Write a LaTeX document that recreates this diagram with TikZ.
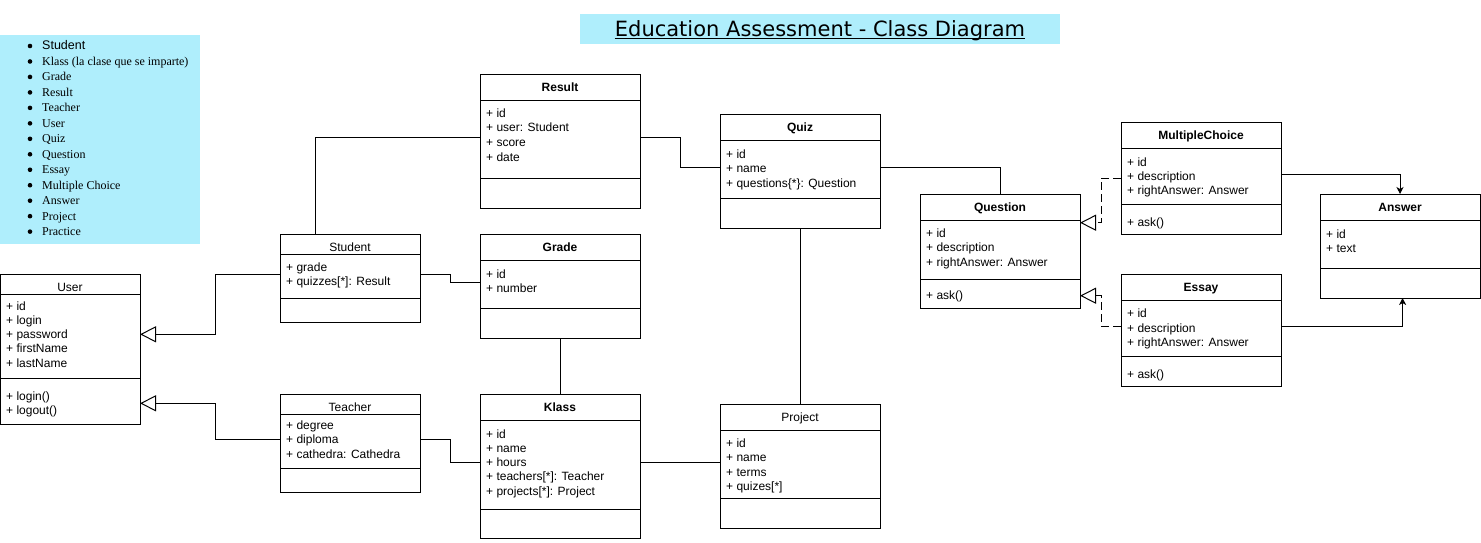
\documentclass[tikz,border=0pt]{standalone}
\usepackage{fontspec}
\setmainfont{Liberation Sans}
\setsansfont{Liberation Sans}
\newfontfamily\legendfont{Liberation Serif}
\newfontfamily\headfont{DejaVu Sans}
\usetikzlibrary{arrows.meta}
\definecolor{notecyan}{RGB}{175,238,252}
\tikzset{
  classbox/.style={draw,line width=1pt,fill=white,inner sep=0pt,outer sep=0pt},
  ctitle/.style={inner sep=0pt,text height=8.6pt,text depth=0pt,font=\fontsize{12}{14.4}\selectfont},
  attr/.style={anchor=west,inner sep=0pt,text height=8.6pt,text depth=0pt,font=\fontsize{12}{14.4}\selectfont},
  legend/.style={anchor=west,inner sep=0pt,text height=7.9pt,text depth=0pt,font=\legendfont\fontsize{12}{14}\selectfont},
  legenddot/.style={circle,fill,inner sep=0pt,minimum size=4.6pt},
  assoc/.style={line width=1pt},
  inherit/.style={line width=1pt,-{Triangle[open,length=16pt,width=16pt]}},
  realize/.style={inherit,dash pattern=on 8pt off 4pt},
  depend/.style={line width=1pt,-{Stealth[length=7pt,width=7pt,inset=2pt]}}
}

\begin{document}
\begin{tikzpicture}[x=1pt,y=-1pt]
\useasboundingbox (0,0) rectangle (1481,542);
\fill[notecyan] (580,14) rectangle (1060,44);
\node[inner sep=0pt,anchor=base,font=\headfont\fontsize{21}{25}\selectfont] (title) at (820,36) {Education Assessment - Class Diagram};
\draw[line width=1.3pt] ([yshift=-2.7pt]title.base west) -- ([yshift=-2.7pt]title.base east);
\fill[notecyan] (0,35) rectangle (200,244);
\foreach \t [count=\i from 0] in {{\sffamily\fontsize{12.5}{14}\selectfont Student},Klass (la clase que se imparte),Grade,Result,Teacher,User,Quiz,Question,Essay,Multiple Choice,Answer,Project,Practice}{
  \node[legenddot] (dot\i) at (30,46+15.47*\i) {};
  \node[legend] (item\i) at (42,46+15.47*\i) {\t};}
\foreach \n/\x/\y/\w/\hh/\s/\h/\t in {
  user/0/274/140/20/104/150/User,
  student/280/234/140/20/64/88/Student,
  teacher/280/394/140/20/74/98/Teacher,
  result/480/74/160/26/104/134/\textbf{Result},
  grade/480/234/160/26/74/104/\textbf{Grade},
  klass/480/394/160/26/115/144/\textbf{Klass},
  quiz/720/114/160/26/84/114/\textbf{Quiz},
  project/720/404/160/26/94/124/Project,
  question/920/194/160/26/85/114/\textbf{Question},
  multichoice/1121/122/160/26/82/112/\textbf{MultipleChoice},
  essay/1121/274/160/26/82/112/\textbf{Essay},
  answer/1320/194/160/26/74/104/\textbf{Answer}}{
  \node[classbox,minimum width=\w*1pt,minimum height=\h*1pt] (\n) at (\x+\w/2,\y+\h/2) {};
  \draw[line width=1pt] (\x,\y+\hh) -- ++(\w,0) (\x,\y+\s) -- ++(\w,0);
  \node[ctitle] (\n-title) at (\x+\w/2,\y+13) {\t};}
\foreach \a [count=\i from 0] in {+ id,+ login,+ password,+ firstName,+ lastName}
  \node[attr] (user-a\i) at (6,306+14.2*\i) {\a};
\foreach \a [count=\i from 0] in {+ login(),+ logout()}
  \node[attr] (user-m\i) at (6,395.7+14.3*\i) {\a};
\foreach \a [count=\i from 0] in {+ grade,+ quizzes[*]: Result}
  \node[attr] (student-a\i) at (286,267+14.6*\i) {\a};
\foreach \a [count=\i from 0] in {+ degree,+ diploma,+ cathedra: Cathedra}
  \node[attr] (teacher-a\i) at (286,424.7+14.5*\i) {\a};
\foreach \a [count=\i from 0] in {+ id,+ user: Student,+ score,+ date}
  \node[attr] (result-a\i) at (486,113+14.6*\i) {\a};
\foreach \a [count=\i from 0] in {+ id,+ number}
  \node[attr] (grade-a\i) at (486,273.7+14.3*\i) {\a};
\foreach \a [count=\i from 0] in {+ id,+ name,+ hours,+ teachers[*]: Teacher,+ projects[*]: Project}
  \node[attr] (klass-a\i) at (486,433.7+14.3*\i) {\a};
\foreach \a [count=\i from 0] in {+ id,+ name,+ questions\{*\}: Question}
  \node[attr] (quiz-a\i) at (726,153.7+14.5*\i) {\a};
\foreach \a [count=\i from 0] in {+ id,+ name,+ terms,+ quizes[*]}
  \node[attr] (project-a\i) at (726,443+14.5*\i) {\a};
\foreach \a [count=\i from 0] in {+ id,+ description,+ rightAnswer: Answer}
  \node[attr] (question-a\i) at (926,233+14.5*\i) {\a};
\node[attr] (question-m0) at (926,295.5) {+ ask()};
\foreach \a [count=\i from 0] in {+ id,+ description,+ rightAnswer: Answer}
  \node[attr] (multichoice-a\i) at (1127,161.7+14.3*\i) {\a};
\node[attr] (multichoice-m0) at (1127,221.7) {+ ask()};
\foreach \a [count=\i from 0] in {+ id,+ description,+ rightAnswer: Answer}
  \node[attr] (essay-a\i) at (1127,313.3+14.5*\i) {\a};
\node[attr] (essay-m0) at (1127,373.7) {+ ask()};
\foreach \a [count=\i from 0] in {+ id,+ text}
  \node[attr] (answer-a\i) at (1326,233.7+14*\i) {\a};
\draw[inherit] ([yshift=3.7pt]student.west) -- ++(-64.7,0) |- ([yshift=14.7pt]user.east);
\draw[inherit] ([yshift=3.7pt]teacher.west) -- ++(-64.7,0) |- ([yshift=-54.3pt]user.east);
\draw[assoc] ([xshift=-34.3pt]student.north) |- ([yshift=4pt]result.west);
\draw[assoc] ([yshift=3.7pt]student.east) -- ++(30.7,0) |- ([yshift=3.7pt]grade.west);
\draw[assoc] ([yshift=3.7pt]teacher.east) -- ++(30.7,0) |- ([yshift=3.7pt]klass.west);
\draw[assoc] (grade.south) -- (klass.north);
\draw[assoc] ([yshift=3.7pt]klass.east) -- ([yshift=3.7pt]project.west);
\draw[assoc] ([yshift=4pt]result.east) -- ++(40.7,0) |- ([yshift=4pt]quiz.west);
\draw[assoc] (quiz.south) -- (project.north);
\draw[assoc] ([yshift=4pt]quiz.east) -| (question.north);
\draw[realize] (multichoice.west) -- ++(-20,0) |- ([yshift=28.3pt]question.east);
\draw[realize] ([yshift=4pt]essay.west) -- ++(-20,0) |- ([yshift=-44.7pt]question.east);
\draw[depend] ([yshift=4pt]multichoice.east) -| (answer.north);
\draw[depend] ([yshift=4pt]essay.east) -| ([xshift=2.6pt]answer.south);
\end{tikzpicture}
\end{document}
